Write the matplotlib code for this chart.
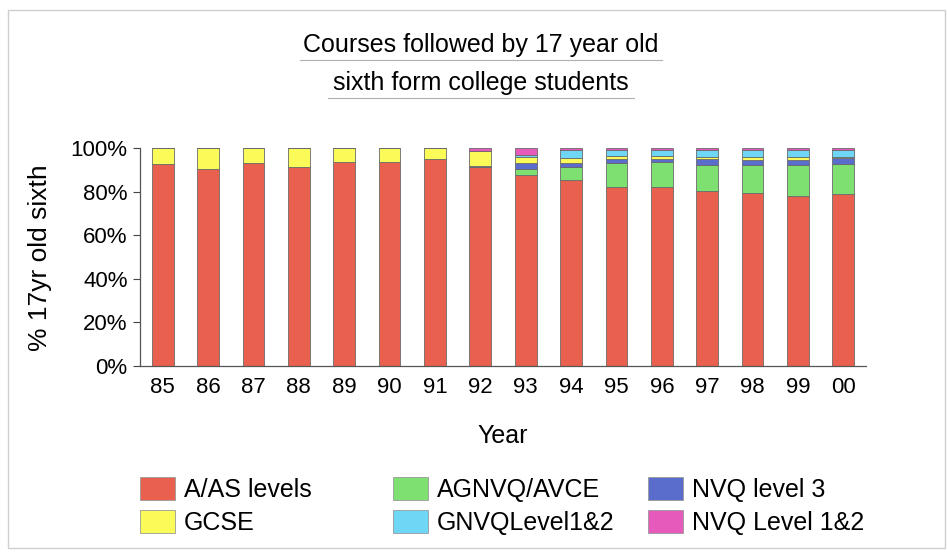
import matplotlib
matplotlib.use("Agg")
import matplotlib.pyplot as plt
from matplotlib.patches import Rectangle, Patch
from matplotlib.lines import Line2D
import numpy as np

plt.rcParams['font.family'] = ['Liberation Sans', 'DejaVu Sans']

years = ['85', '86', '87', '88', '89', '90', '91', '92', '93', '94', '95', '96', '97', '98', '99', '00']
a_as = [92.7, 90.4, 93.0, 91.4, 93.4, 93.6, 94.8, 91.4, 87.7, 85.5, 82.0, 82.0, 80.2, 79.3, 78.1, 79.1]
agnvq = [0, 0, 0, 0, 0, 0, 0, 0, 2.5, 6.0, 11.3, 11.4, 12.0, 13.0, 14.1, 13.7]
nvq3 = [0, 0, 0, 0, 0, 0, 0, 0.5, 3.0, 1.5, 1.8, 1.4, 2.7, 2.4, 2.5, 2.8]
gcse = [7.3, 9.6, 7.0, 8.6, 6.6, 6.4, 5.2, 6.9, 2.5, 2.3, 1.2, 1.4, 1.1, 1.3, 1.2, 0.5]
gnvq12 = [0, 0, 0, 0, 0, 0, 0, 0, 0.9, 3.8, 2.7, 2.9, 3.1, 3.0, 3.0, 2.9]
nvq12 = [0, 0, 0, 0, 0, 0, 0, 1.2, 3.4, 0.9, 1.0, 1.0, 0.9, 1.0, 1.1, 1.0]

series = [
    ('A/AS levels', a_as, '#EA604E'),
    ('AGNVQ/AVCE', agnvq, '#7EE070'),
    ('NVQ level 3', nvq3, '#5A6CCC'),
    ('GCSE', gcse, '#FAFA58'),
    ('GNVQLevel1&2', gnvq12, '#70D6F6'),
    ('NVQ Level 1&2', nvq12, '#E65ABC'),
]

fig = plt.figure(figsize=(9.47, 5.58), dpi=100)
fig.patch.set_facecolor('white')
fig.add_artist(Rectangle((8/947, 1-548/558), 937/947, 538/558, transform=fig.transFigure,
                         fill=False, edgecolor='#cfcfcf', linewidth=1.0))

ax = fig.add_axes([140/947, 1-366/558, 726/947, 218/558])
x = np.arange(len(years))
bottom = np.zeros(len(years))
handles = {}
for name, vals, col in series:
    v = np.array(vals, dtype=float)
    ax.bar(x, v, width=0.48, bottom=bottom, color=col, edgecolor='#6a6a6a', linewidth=0.6)
    bottom += v
    handles[name] = Patch(facecolor=col, edgecolor='#9a9a9a', linewidth=0.6)

ax.set_xlim(-0.5, len(years) - 0.5)
ax.set_ylim(0, 100)
ax.set_yticks([0, 20, 40, 60, 80, 100])
ax.set_yticklabels(['0%', '20%', '40%', '60%', '80%', '100%'])
ax.set_xticks(x)
ax.set_xticklabels(years)
ax.tick_params(axis='y', labelsize=16, length=5, width=0.8, color='#444444', pad=4)
ax.tick_params(axis='x', labelsize=16, length=0, pad=8)
for s in ['top', 'right']:
    ax.spines[s].set_visible(False)
for s in ['left', 'bottom']:
    ax.spines[s].set_color('#555555')
    ax.spines[s].set_linewidth(0.9)

fig.text(40/947, 1-258/558, '% 17yr old sixth', fontsize=19, rotation=90, ha='center', va='center')
fig.text(503/947, 1-436/558, 'Year', fontsize=18, ha='center', va='center')

# Title with underlines
fig.text(481/947, 1-45/558, 'Courses followed by 17 year old', fontsize=18, ha='center', va='center')
fig.text(481/947, 1-83/558, 'sixth form college students', fontsize=18, ha='center', va='center')
fig.add_artist(Line2D([300/947, 662/947], [1-60/558, 1-60/558], color='#b0b0b0', linewidth=0.8))
fig.add_artist(Line2D([328/947, 634/947], [1-98/558, 1-98/558], color='#b0b0b0', linewidth=0.8))

legend_cols = [(['A/AS levels', 'GCSE'], 140), (['AGNVQ/AVCE', 'GNVQLevel1&2'], 393),
               (['NVQ level 3', 'NVQ Level 1&2'], 648)]
for names, xpos in legend_cols:
    fig.legend([handles[n] for n in names], names, loc='upper left',
               bbox_to_anchor=(xpos/947, 1-477/558), frameon=False, fontsize=18,
               handlelength=1.4, handleheight=1.05, labelspacing=0.3,
               handletextpad=0.35, borderpad=0.0, borderaxespad=0.0)

fig.savefig('out.png', dpi=100, facecolor='white')
